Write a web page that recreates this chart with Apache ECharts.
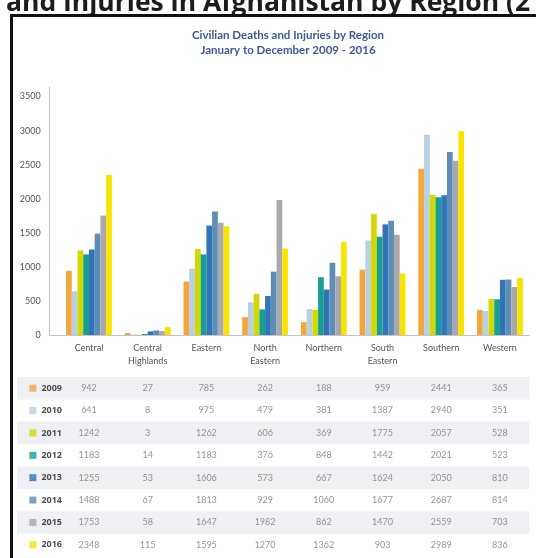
<!DOCTYPE html>
<html>
<head>
<meta charset="utf-8">
<script src="https://cdn.jsdelivr.net/npm/echarts@6/dist/echarts.min.js"></script>
<style>
  html, body { margin: 0; padding: 0; background: #fff; }
  #container { width: 536px; height: 558px; }
</style>
</head>
<body>
<div id="container"></div>
<script>
// data
var regions = ['Central', 'Central\nHighlands', 'Eastern', 'North\nEastern', 'Northern', 'South\nEastern', 'Southern', 'Western'];
var years = ['2009', '2010', '2011', '2012', '2013', '2014', '2015', '2016'];
var v2009 = [942, 27, 785, 262, 188, 959, 2441, 365];
var v2010 = [641, 8, 975, 479, 381, 1387, 2940, 351];
var v2011 = [1242, 3, 1262, 606, 369, 1775, 2057, 528];
var v2012 = [1183, 14, 1183, 376, 848, 1442, 2021, 523];
var v2013 = [1255, 53, 1606, 573, 667, 1624, 2050, 810];
var v2014 = [1488, 67, 1813, 929, 1060, 1677, 2687, 814];
var v2015 = [1753, 58, 1647, 1982, 862, 1470, 2559, 703];
var v2016 = [2348, 115, 1595, 1270, 1362, 903, 2989, 836];
var yTicks = [0, 500, 1000, 1500, 2000, 2500, 3000, 3500];

var values = [v2009, v2010, v2011, v2012, v2013, v2014, v2015, v2016];
var colors = ['#f4a63a', '#b8d0e4', '#d3d800', '#17a091', '#3274b8', '#5e8db5', '#a9a9ad', '#f7e400'];

var dom = document.getElementById('container');
var myChart = echarts.init(dom);

var smallFont = 'Lato';

// bars
var series = years.map(function (y, i) {
    return {
        name: y,
        type: 'bar',
        xAxisIndex: 0,
        yAxisIndex: 0,
        data: values[i],
        itemStyle: {color: colors[i]},
        barGap: '0%',
        barCategoryGap: '22%',
        animation: false
    };
});

// table cells: one point per (region, year), text only
var cells = [];
years.forEach(function (y, i) {
    values[i].forEach(function (v, j) {
        cells.push([j + 0.5, y, v]);
    });
});
series.push({
    type: 'scatter',
    xAxisIndex: 1,
    yAxisIndex: 1,
    data: cells,
    symbolSize: 1,
    itemStyle: {color: 'transparent'},
    label: {
        show: true,
        position: 'inside',
        formatter: function (p) { return p.value[2]; },
        color: '#7a7a7a',
        fontSize: 9,
        fontFamily: smallFont
    },
    silent: true,
    animation: false
});

// legend squares + year names in the table
series.push({
    type: 'scatter',
    xAxisIndex: 1,
    yAxisIndex: 1,
    data: years.map(function (y, i) {
        return {value: [-0.455, y], itemStyle: {color: colors[i]}};
    }),
    symbol: 'rect',
    symbolSize: 7,
    label: {
        show: true,
        position: 'right',
        distance: 5,
        formatter: function (p) { return p.value[1]; },
        color: '#222',
        fontSize: 9,
        fontWeight: 'bold',
        fontFamily: 'Open Sans'
    },
    silent: true,
    animation: false
});

var option = {
    backgroundColor: '#fff',
    animation: false,
    title: {
        text: 'Civilian Deaths and Injuries by Region\nJanuary to December 2009 - 2016',
        left: 283,
        top: 23,
        textAlign: 'center',
        textStyle: {
            fontSize: 11.5,
            fontWeight: 'bold',
            color: '#3d5a96',
            lineHeight: 15,
            fontFamily: smallFont
        }
    },
    graphic: [
        {
            type: 'text',
            x: 6,
            y: 17,
            style: {
                text: 'and Injuries in Afghanistan by Region (2',
                font: 'bold 26.5px "Open Sans"',
                fill: '#1c1c1c',
                verticalAlign: 'bottom'
            },
            z: 10
        },
        {
            type: 'rect',
            shape: {x: 11.5, y: 15.5, width: 700, height: 700},
            style: {fill: 'none', stroke: '#111', lineWidth: 3},
            z: 11
        },
        {
            type: 'line',
            shape: {x1: 49.5, y1: 335.5, x2: 60, y2: 335.5},
            style: {stroke: '#c4c4c4', lineWidth: 1}
        }
    ],
    grid: [
        {left: 59.6, right: 6.7, top: 87, height: 248},
        {left: 17, right: 6.7, top: 377, height: 179}
    ],
    xAxis: [
        {
            type: 'category',
            gridIndex: 0,
            data: regions,
            axisLine: {lineStyle: {color: '#c4c4c4'}},
            axisTick: {show: false},
            axisLabel: {
                color: '#555',
                fontSize: 9,
                lineHeight: 13,
                margin: 7,
                fontFamily: smallFont,
                interval: 0
            }
        },
        {
            type: 'value',
            gridIndex: 1,
            min: -0.7256,
            max: 8,
            show: false
        }
    ],
    yAxis: [
        {
            type: 'value',
            gridIndex: 0,
            min: yTicks[0],
            max: 3640,
            interval: 500,
            offset: 10,
            axisLine: {show: true, lineStyle: {color: '#c4c4c4'}},
            axisTick: {show: false},
            splitLine: {show: false},
            axisLabel: {
                color: '#555',
                fontSize: 9,
                margin: 9,
                fontFamily: smallFont,
                showMaxLabel: false,
                formatter: function (v) { return yTicks.indexOf(v) >= 0 ? v : ''; }
            }
        },
        {
            type: 'category',
            gridIndex: 1,
            data: years,
            inverse: true,
            axisLine: {show: false},
            axisTick: {show: false},
            axisLabel: {show: false},
            splitLine: {show: false},
            splitArea: {
                show: true,
                areaStyle: {color: ['#eff0f4', 'rgba(255,255,255,0)']}
            }
        }
    ],
    series: series
};
myChart.setOption(option, true);
</script>
</body>
</html>
